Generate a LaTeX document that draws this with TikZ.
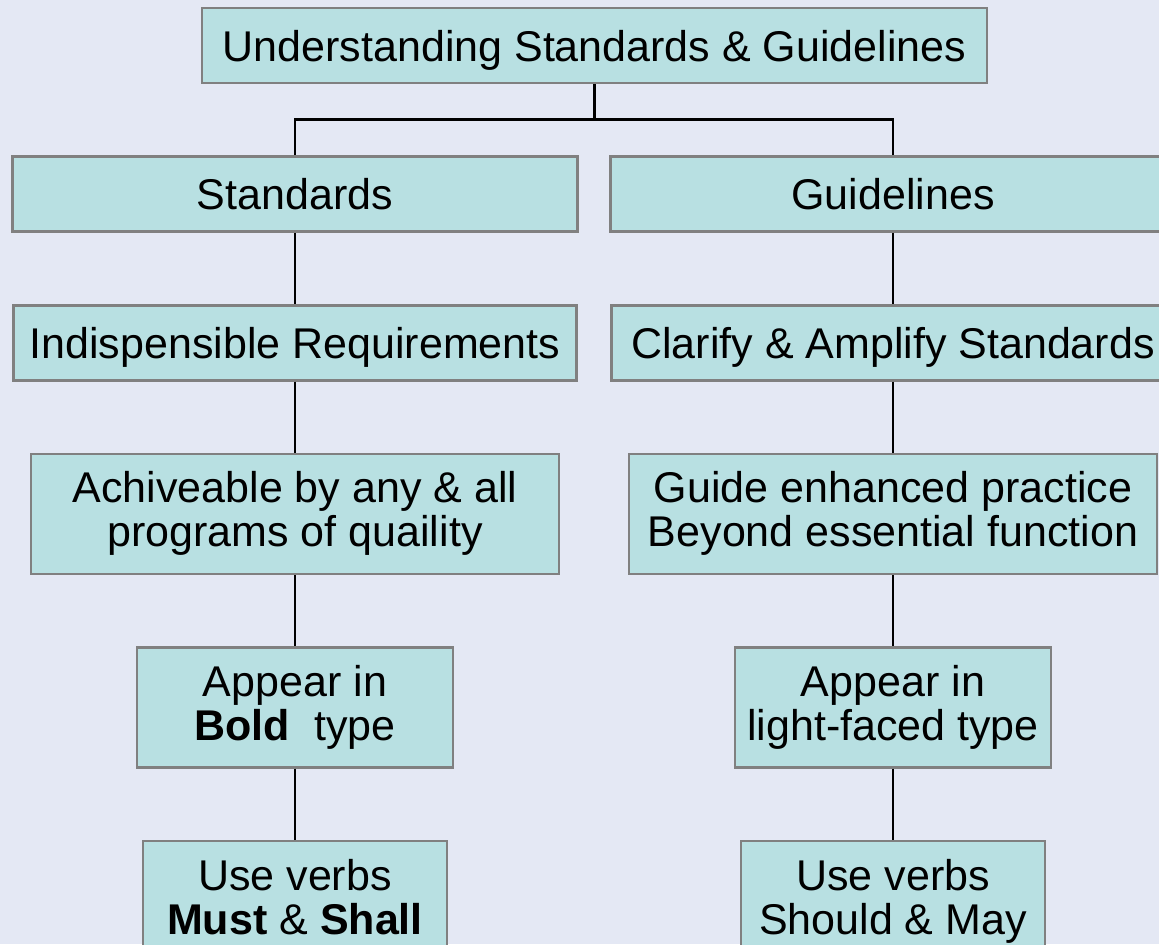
\documentclass[tikz,border=0pt]{standalone}
\usepackage{fontspec}
\setmainfont{Liberation Sans}
\usetikzlibrary{positioning}
\definecolor{boxfill}{HTML}{B8E0E2}
\definecolor{boxline}{HTML}{808080}
\definecolor{pagebg}{HTML}{E4E8F4}

\begin{document}
\begin{tikzpicture}[
                x=1pt, y=1pt,
                node distance=35.5pt,
                box/.style={rectangle, draw=boxline, fill=boxfill, line width=1.3pt, inner sep=0pt, align=center, font=\fontsize{21.5}{22}\selectfont},
                single/.style={box, minimum height=37.5pt, text height=15.5pt, text depth=0pt},
                double/.style={box, minimum height=60pt},
                conn/.style={line width=1.2pt, black}
            ]
            \fill[pagebg] (0,0) rectangle (579.5,-472);
            \useasboundingbox (0,0) rectangle (579.5,-472);
            \node[single, minimum width=392.5pt] (top) at (297.25,-22.75) {Understanding Standards \& Guidelines};
            \node[single, minimum width=282.5pt, below=of top, xshift=-149.75pt] (std) {Standards};
            \node[single, minimum width=282.5pt, below=of top, xshift=149.25pt] (gdl) {Guidelines};
            \node[single, minimum width=281.5pt, below=of std] (req) {Indispensible Requirements};
            \node[single, minimum width=281.5pt, below=of gdl] (clar) {Clarify \& Amplify Standards};
            \node[double, minimum width=264pt, below=of req] (achv) {Achiveable by any \& all\\ programs of quaility};
            \node[double, minimum width=264pt, below=of clar] (guide) {Guide enhanced practice\\ Beyond essential function};
            \node[double, minimum width=158pt, below=of achv] (bold) {Appear in\\ \textbf{Bold}\ \ type};
            \node[double, minimum width=158pt, below=of guide] (light) {Appear in\\ light-faced type};
            \node[double, minimum width=152pt, below=of bold] (must) {Use verbs\\ \textbf{Must} \& \textbf{Shall}\vphantom{y}};
            \node[double, minimum width=152pt, below=of light] (should) {Use verbs\\ Should \& May};
            \draw[conn] (top.south) -- ++(0,-17.5) -| (std.north);
            \draw[conn] (top.south) -- ++(0,-17.5) -| (gdl.north);
            \draw[conn] (std) -- (req);
            \draw[conn] (req) -- (achv);
            \draw[conn] (achv) -- (bold);
            \draw[conn] (bold) -- (must);
            \draw[conn] (gdl) -- (clar);
            \draw[conn] (clar) -- (guide);
            \draw[conn] (guide) -- (light);
            \draw[conn] (light) -- (should);
        \end{tikzpicture}
\end{document}
